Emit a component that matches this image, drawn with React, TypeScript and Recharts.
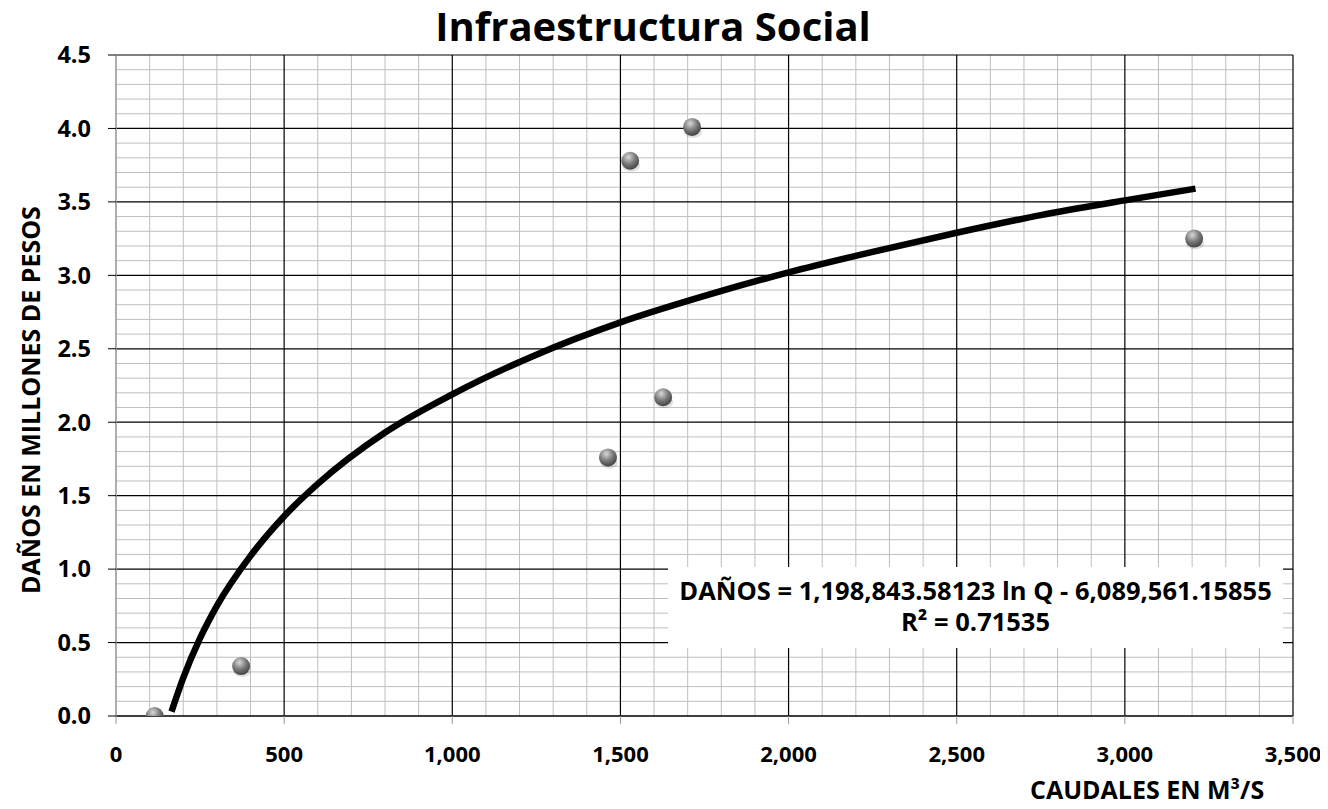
import React from 'react';
import { ComposedChart, Line, Scatter, XAxis, YAxis, ReferenceLine } from 'recharts';

// observed points (Q in m3/s, damages in millions)
const caudales = [115, 372, 1463, 1529, 1627, 1713, 3206];
const danos = [0.0, 0.34, 1.76, 3.78, 2.17, 4.01, 3.25];

// log trendline
const trendQ = [165, 200, 250, 300, 400, 500, 600, 800, 1000, 1250, 1500, 1750, 2000, 2250, 2500, 2750, 3000, 3210];
const trendD = [0.03, 0.26, 0.53, 0.75, 1.09, 1.36, 1.58, 1.93, 2.19, 2.46, 2.68, 2.86, 3.02, 3.16, 3.29, 3.41, 3.51, 3.59];

const xTicks = [0, 500, 1000, 1500, 2000, 2500, 3000, 3500];
const yTicks = [0, 0.5, 1, 1.5, 2, 2.5, 3, 3.5, 4, 4.5];

const xMinor = Array.from({ length: 36 }, (_, i) => i * 100).filter(v => v % 500 !== 0);
const yMinor = Array.from({ length: 46 }, (_, i) => i / 10).filter((_, i) => i % 5 !== 0);

const points = caudales.map((q, i) => ({ q, d: danos[i] }));
const trend = trendQ.map((q, i) => ({ q, t: trendD[i] }));

const FONT = '"Open Sans", Lato, sans-serif';

const Ball = (props: any) => {
  const { cx, cy } = props;
  if (cx == null || cy == null) return null;
  return (
    <g>
      <defs>
        <radialGradient id="ballGrad" cx="40%" cy="30%" r="70%">
          <stop offset="0%" stopColor="#d8d8d8" />
          <stop offset="55%" stopColor="#7a7a7a" />
          <stop offset="100%" stopColor="#444" />
        </radialGradient>
      </defs>
      <ellipse cx={cx + 1} cy={cy + 5} rx={9} ry={6} fill="#000" opacity={0.12} />
      <circle cx={cx} cy={cy} r={9} fill="url(#ballGrad)" />
    </g>
  );
};

const fmt = (v: number) => v.toLocaleString('en-US');

export default function App() {
  return (
    <div style={{ position: 'relative', width: 1312, height: 793, fontFamily: FONT, background: '#fff' }}>
      <div style={{ position: 'absolute', left: 0, width: 1290, top: -8, textAlign: 'center', fontSize: 40, fontWeight: 700, lineHeight: '52px' }}>
        Infraestructura Social
      </div>
      <ComposedChart width={1312} height={793} margin={{ top: 47, right: 27, left: 0, bottom: 0 }}>
        {yMinor.map(v => (
          <ReferenceLine key={'ym' + v} y={v} stroke="#bfbfbf" strokeWidth={1} />
        ))}
        {xMinor.map(v => (
          <ReferenceLine key={'xm' + v} x={v} stroke="#bfbfbf" strokeWidth={1} />
        ))}
        {yTicks.map(v => (
          <ReferenceLine key={'y' + v} y={v} stroke="#000" strokeWidth={1.2} />
        ))}
        {xTicks.map(v => (
          <ReferenceLine key={'x' + v} x={v} stroke={v === 0 ? '#999' : '#000'} strokeWidth={1.2} />
        ))}
        <XAxis
          type="number"
          dataKey="q"
          domain={[0, 3500]}
          ticks={xTicks}
          tickFormatter={fmt}
          allowDataOverflow
          height={85}
          tickSize={8}
          tickMargin={22}
          axisLine={{ stroke: '#000' }}
          tickLine={{ stroke: '#999' }}
          tick={{ fill: '#000', fontSize: 22, fontWeight: 700, fontFamily: FONT }}
        />
        <YAxis
          type="number"
          domain={[0, 4.5]}
          ticks={yTicks}
          tickFormatter={(v: number) => v.toFixed(1)}
          allowDataOverflow
          width={108}
          tickSize={8}
          tickMargin={17}
          axisLine={{ stroke: '#999' }}
          tickLine={{ stroke: '#000' }}
          tick={{ fill: '#000', fontSize: 23.5, fontWeight: 700, fontFamily: FONT }}
        />
        <Line
          data={trend}
          dataKey="t"
          type="monotone"
          stroke="#000"
          strokeWidth={6.5}
          dot={false}
          activeDot={false}
          isAnimationActive={false}
        />
        <Scatter data={points} dataKey="d" shape={<Ball />} isAnimationActive={false} />
      </ComposedChart>
      <div
        style={{
          position: 'absolute', left: 660, top: 559, width: 615, height: 81, background: '#fff',
          textAlign: 'center', fontSize: 25.5, fontWeight: 700, lineHeight: '31px', paddingTop: 8, boxSizing: 'border-box',
          whiteSpace: 'nowrap',
        }}
      >
        <div>DAÑOS = 1,198,843.58123 ln Q - 6,089,561.15855</div>
        <div>R² = 0.71535</div>
      </div>
      <div
        style={{
          position: 'absolute', left: 22 - 200, top: 392 - 15, width: 400, textAlign: 'center',
          transform: 'rotate(-90deg)', fontSize: 25, fontWeight: 700, lineHeight: '30px', whiteSpace: 'nowrap',
        }}
      >
        DAÑOS EN MILLONES DE PESOS
      </div>
      <div style={{ position: 'absolute', left: 1022, top: 766, fontSize: 25, fontWeight: 700, lineHeight: '30px', whiteSpace: 'nowrap' }}>
        CAUDALES EN M³/S
      </div>
    </div>
  );
}
